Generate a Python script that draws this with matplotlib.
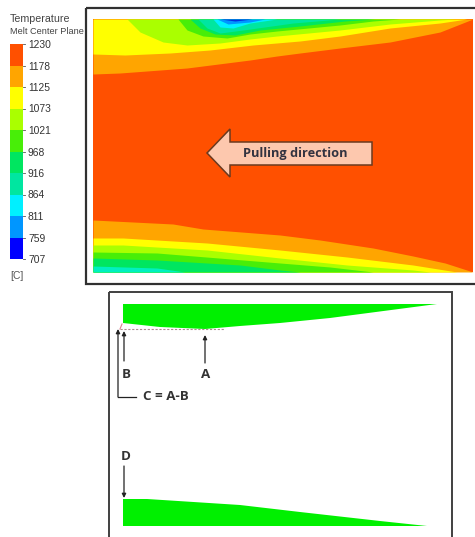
import matplotlib
matplotlib.use("Agg")
import matplotlib.pyplot as plt
from matplotlib.patches import Polygon, Rectangle

# Contour bands, pixel units of the source image
TOP_Y = 19
BOTTOM_Y = 272
LEFT_X = 93
RIGHT_X = 473

RED = "#ff5000"
ORANGE = "#ffa500"
YELLOW = "#ffff00"
LIME = "#aaff00"
GREEN = "#48ee08"
MINT = "#00e660"
TEAL = "#00e6a0"
CYAN = "#00f0ff"
SKY = "#0096ff"
BLUE = "#0030e0"

# top side: each band is (x, y of lower boundary)
top_orange_x = [93, 120, 187, 250, 277, 300, 340, 390, 440, 473]
top_orange_y = [74, 73, 68, 60, 56, 53, 48, 42, 32, 19]
top_yellow_x = [93, 125, 170, 210, 253, 300, 340, 390, 440, 467]
top_yellow_y = [54, 55, 53, 50, 45, 41, 36, 28, 23, 19]
top_lime_x = [127, 140, 163, 187, 220, 250, 277, 340, 390, 440, 455]
top_lime_y = [19, 32, 42, 45, 43, 39, 36, 30, 24, 20, 19]
top_green_x = [178, 187, 203, 227, 250, 277, 340, 373, 400]
top_green_y = [19, 30, 36, 38, 34, 31, 25, 21, 19]
top_mint_x = [190, 200, 215, 235, 260, 300, 345, 375]
top_mint_y = [19, 28, 34, 35, 30, 26, 21, 19]
top_teal_x = [198, 207, 220, 243, 293, 340]
top_teal_y = [19, 28, 33, 30, 23, 19]
top_cyan_x = [213, 220, 233, 250, 277]
top_cyan_y = [19, 27, 28, 23, 19]
top_sky_x = [217, 228, 250, 265]
top_sky_y = [19, 24, 22, 19]
top_blue_x = [220, 235, 252]
top_blue_y = [19, 21, 19]

# bottom side: (x, y of upper boundary)
bot_orange_x = [93, 173, 203, 280, 320, 373, 413, 445, 473]
bot_orange_y = [220, 224, 229, 235, 240, 248, 256, 263, 272]
bot_yellow_x = [93, 123, 207, 280, 347, 413, 457]
bot_yellow_y = [238, 238, 243, 250, 257, 265, 272]
bot_lime_x = [93, 123, 207, 280, 347, 413, 430]
bot_lime_y = [245, 245, 250, 258, 265, 270, 272]
bot_green_x = [93, 157, 280, 330, 373]
bot_green_y = [252, 253, 263, 267, 272]
bot_mint_x = [93, 157, 240, 280, 300]
bot_mint_y = [258, 260, 265, 270, 272]
bot_teal_x = [93, 157, 185]
bot_teal_y = [266, 268, 272]

# colour key
legend_ticks = ["1230", "1178", "1125", "1073", "1021", "968", "916", "864", "811", "759", "707"]
legend_colors = [RED, ORANGE, YELLOW, LIME, GREEN, MINT, TEAL, CYAN, SKY, "#0000ff"]

# wedge outlines
wedge_top_x = [123, 160, 205, 240, 280, 330, 437, 123]
wedge_top_y = [323, 327, 329, 326, 323, 318, 304, 304]
wedge_bot_x = [123, 147, 240, 300, 380, 427, 123]
wedge_bot_y = [499, 499, 505, 512, 521, 526, 526]

# pulling direction arrow outline
arrow_x = [207, 230, 230, 372, 372, 230, 230]
arrow_y = [153, 129, 142, 142, 165, 165, 177]

fig = plt.figure(figsize=(4.75, 5.37), dpi=100)
ax = fig.add_axes([0, 0, 1, 1])
ax.set_xlim(0, 475)
ax.set_ylim(537, 0)
ax.axis("off")

# frames
ax.add_patch(Rectangle((85.5, 8), 395, 276, fill=False, ec="#303030", lw=1.6))
ax.add_patch(Rectangle((109, 292), 343, 260, fill=False, ec="#404040", lw=1.4))

# contour field
ax.add_patch(Rectangle((LEFT_X, TOP_Y), RIGHT_X - LEFT_X, BOTTOM_Y - TOP_Y, fc=RED, ec="none"))
top_bands = [
    (top_orange_x, top_orange_y, ORANGE),
    (top_yellow_x, top_yellow_y, YELLOW),
    (top_lime_x, top_lime_y, LIME),
    (top_green_x, top_green_y, GREEN),
    (top_mint_x, top_mint_y, MINT),
    (top_teal_x, top_teal_y, TEAL),
    (top_cyan_x, top_cyan_y, CYAN),
    (top_sky_x, top_sky_y, SKY),
    (top_blue_x, top_blue_y, BLUE),
]
for xs, ys, c in top_bands:
    ax.fill_between(xs, ys, TOP_Y, color=c, lw=0)
bot_bands = [
    (bot_orange_x, bot_orange_y, ORANGE),
    (bot_yellow_x, bot_yellow_y, YELLOW),
    (bot_lime_x, bot_lime_y, LIME),
    (bot_green_x, bot_green_y, GREEN),
    (bot_mint_x, bot_mint_y, MINT),
    (bot_teal_x, bot_teal_y, "#00f0c0"),
]
for xs, ys, c in bot_bands:
    ax.fill_between(xs, ys, BOTTOM_Y, color=c, lw=0)

# colour key
key_top = 44
key_step = 21.5
for i, c in enumerate(legend_colors):
    ax.add_patch(Rectangle((10, key_top + i * key_step), 13, key_step, fc=c, ec="none"))
for i, t in enumerate(legend_ticks):
    yy = key_top + i * key_step
    ax.plot([23, 25], [yy, yy], color="#555555", lw=0.6)
    ax.text(28, yy + 1, t, fontsize=7.4, color="#333333", va="center", family="Liberation Sans")
ax.text(10, 19, "Temperature", fontsize=7.7, color="#444444", va="center", family="Liberation Sans")
ax.text(10, 31, "Melt Center Plane", fontsize=6.6, color="#444444", va="center", family="Liberation Sans")
ax.text(10, 276, "[C]", fontsize=7.4, color="#555555", va="center", family="Liberation Sans")

# pulling arrow
ax.add_patch(Polygon(list(zip(arrow_x, arrow_y)), closed=True, fc="#fdc8ae", ec="#6a3a20", lw=1.1))
ax.text(295.5, 153, "Pulling direction", fontsize=9.2, fontweight="bold", color="#333340",
        ha="center", va="center", family="Open Sans")

# wedges
ax.fill(wedge_top_x, wedge_top_y, color="#00f000", lw=0)
ax.fill(wedge_bot_x, wedge_bot_y, color="#00f000", lw=0)

# annotations
ax.plot([120, 225], [329, 329], color="#b08a90", lw=0.8, ls=(0, (2, 1.5)))
ax.plot([120, 122], [329, 324], color="#e08090", lw=0.8)
arrow_style = dict(arrowstyle="-|>", color="#222222", lw=0.9, mutation_scale=6, shrinkA=0, shrinkB=0)
ax.annotate("", xy=(205, 335), xytext=(205, 363), arrowprops=arrow_style)
ax.annotate("", xy=(124, 331), xytext=(124, 361), arrowprops=arrow_style)
ax.annotate("", xy=(124, 498), xytext=(124, 466), arrowprops=arrow_style)
ax.annotate("", xy=(118, 329), xytext=(118, 397), arrowprops=arrow_style)
ax.plot([118, 136], [397, 397], color="#222222", lw=0.9)

label_style = dict(fontsize=9.6, fontweight="bold", color="#333333", va="center", family="Open Sans")
ax.text(206, 375, "A", ha="center", **label_style)
ax.text(126, 375, "B", ha="center", **label_style)
ax.text(143, 397, "C = A-B", ha="left", **label_style)
ax.text(126, 457, "D", ha="center", **label_style)

fig.savefig("out.png", dpi=100)
